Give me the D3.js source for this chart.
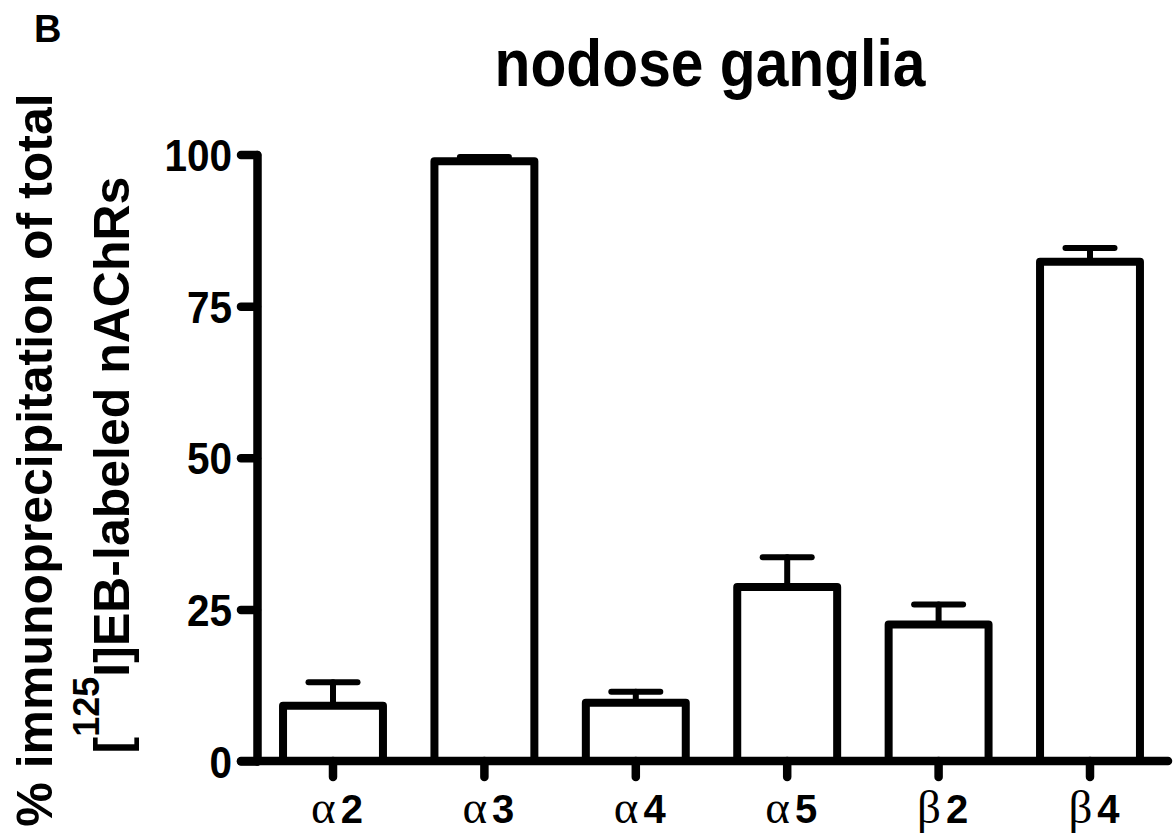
<!DOCTYPE html>
<html>
<head>
<meta charset="utf-8">
<script src="https://cdn.jsdelivr.net/npm/d3@7"></script>
<style>
  html, body { margin: 0; padding: 0; background: #fff; }
  svg { display: block; font-family: Arial, "Liberation Sans", sans-serif; }
</style>
</head>
<body>
<div id="chart"></div>
<script>
// subunits, as greek letter + number
const categories = ["α2", "α3", "α4", "α5", "β2", "β4"];
const greek = ["α", "α", "α", "α", "β", "β"];
const digits = ["2", "3", "4", "5", "2", "4"];
// % immunoprecipitation (mean) and SEM
const means = [9.1, 98.9, 9.6, 28.7, 22.5, 82.3];
const errors = [3.9, 0.7, 1.8, 4.9, 3.3, 2.3];
const yTicks = [0, 25, 50, 75, 100];

const width = 1174, height = 837;
const svg = d3.select("#chart").append("svg").attr("width", width).attr("height", height);

const x = d3.scaleBand().domain(categories).range([257.3, 1165.7])
    .paddingInner(0.34).paddingOuter(0.17);
const y = d3.scaleLinear().domain([0, 100]).range([761, 154.5]);

const rows = categories.map((c, i) => ({ cat: c, g: greek[i], n: digits[i], mean: means[i], err: errors[i] }));

// bars
svg.append("g").selectAll("rect").data(rows).join("rect")
    .attr("x", d => x(d.cat))
    .attr("width", x.bandwidth())
    .attr("y", d => y(d.mean))
    .attr("height", d => y(0) - y(d.mean))
    .attr("fill", "#fff")
    .attr("stroke", "#000")
    .attr("stroke-width", 8)
    .attr("stroke-linejoin", "round");

// error bars (upper only)
const eb = svg.append("g").attr("stroke", "#000").attr("stroke-width", 6).attr("stroke-linecap", "round");
eb.selectAll("line.stem").data(rows).join("line").attr("class", "stem")
    .attr("x1", d => x(d.cat) + x.bandwidth() / 2)
    .attr("x2", d => x(d.cat) + x.bandwidth() / 2)
    .attr("y1", d => y(d.mean))
    .attr("y2", d => y(d.mean + d.err));
eb.selectAll("line.cap").data(rows).join("line").attr("class", "cap")
    .attr("x1", d => x(d.cat) + x.bandwidth() / 2 - 24.5)
    .attr("x2", d => x(d.cat) + x.bandwidth() / 2 + 24.5)
    .attr("y1", d => y(d.mean + d.err))
    .attr("y2", d => y(d.mean + d.err));

// y axis
const yAxis = svg.append("g").attr("transform", "translate(257,0)")
    .call(d3.axisLeft(y).tickValues(yTicks).tickSize(16).tickSizeOuter(0).tickPadding(9));
yAxis.select(".domain").attr("stroke-width", 8.5).attr("stroke-linecap", "round");
yAxis.selectAll(".tick line").attr("stroke-width", 8.5).attr("stroke-linecap", "round");
yAxis.selectAll(".tick text")
    .attr("font-family", "Arial, 'Liberation Sans', sans-serif")
    .attr("font-size", 45).attr("font-weight", "bold").attr("fill", "#000")
    .attr("dy", "0.36em")
    .attr("transform", "translate(-25,0) scale(0.9,1)")
    .attr("x", 0);

// x axis line
svg.append("line")
    .attr("x1", 241).attr("x2", 1168)
    .attr("y1", y(0)).attr("y2", y(0))
    .attr("stroke", "#000").attr("stroke-width", 8.5).attr("stroke-linecap", "round");

const xAxis = svg.append("g").attr("transform", `translate(0,${y(0)})`)
    .call(d3.axisBottom(x).tickSize(16).tickSizeOuter(0).tickFormat(""));
xAxis.select(".domain").remove();
xAxis.selectAll(".tick line").attr("stroke-width", 8.5).attr("stroke-linecap", "round");

// x labels: greek letter in serif, number in bold sans
const xl = svg.append("g").selectAll("text").data(rows).join("text")
    .attr("x", d => x(d.cat) + x.bandwidth() / 2 + 4)
    .attr("y", 823)
    .attr("text-anchor", "middle");
xl.append("tspan").text(d => d.g)
    .attr("font-family", "'Liberation Serif', 'DejaVu Serif', serif")
    .attr("font-size", 47);
xl.append("tspan").text(d => d.n)
    .attr("dx", 5)
    .attr("font-family", "Arial, 'Liberation Sans', sans-serif")
    .attr("font-size", 40).attr("font-weight", "bold");

// title
svg.append("text")
    .attr("transform", "translate(710,86) scale(0.89,1)")
    .attr("text-anchor", "middle")
    .attr("font-size", 66).attr("font-weight", "bold")
    .text("nodose ganglia");

// panel letter
svg.append("text")
    .attr("x", 34).attr("y", 42)
    .attr("font-size", 38).attr("font-weight", "bold")
    .text("B");

// y axis title, two lines
svg.append("text")
    .attr("transform", "translate(52,460) rotate(-90)")
    .attr("text-anchor", "middle")
    .attr("font-size", 50).attr("font-weight", "bold")
    .text("% immunoprecipitation of total");

const l2 = svg.append("text")
    .attr("transform", "translate(129,465) rotate(-90)")
    .attr("text-anchor", "middle")
    .attr("font-size", 50).attr("font-weight", "bold");
l2.append("tspan").text("[");
l2.append("tspan").text("125").attr("font-size", 36).attr("dy", -30);
l2.append("tspan").text("I]EB-labeled nAChRs").attr("dy", 30);
</script>
</body>
</html>
